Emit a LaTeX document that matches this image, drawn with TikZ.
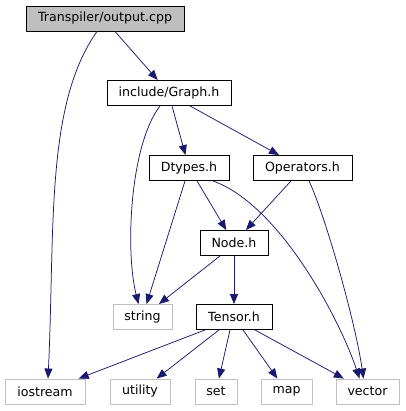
\documentclass[tikz,border=0pt]{standalone}
\usepackage{fontspec}
\setmainfont{DejaVu Sans}
\usepackage{xcolor}
\usepackage{tikz}
\usetikzlibrary{arrows.meta}
\definecolor{dgEdge}{HTML}{191970}
\definecolor{dgGrey}{HTML}{BFBFBF}
\definecolor{dgInk}{HTML}{000000}
\tikzset{
  dg diagram/.style={x=1pt, y=-1pt, font=\fontsize{12.6}{15}\selectfont, text=dgInk},
  dg box/.style={draw=dgInk, fill=white, line width=0.9pt, inner sep=0pt,
    minimum height=25pt, align=center},
  dg root box/.style={dg box, fill=dgGrey},
  dg ext box/.style={dg box, draw=dgGrey},
  dg arrow/.style={-{Triangle[length=10pt,width=8pt]}, draw=dgEdge, line width=0.75pt}
}
\begin{document}
\begin{tikzpicture}[dg diagram]
\useasboundingbox (0,0) rectangle (405,411);
\node[dg root box, minimum width=158pt] (output) at (105,18.5) {Transpiler/output.cpp};
\node[dg box, minimum width=124pt] (graph) at (169,93) {include/Graph.h};
\node[dg box, minimum width=80pt] (dtypes) at (189,168) {Dtypes.h};
\node[dg box, minimum width=99pt] (operators) at (302.5,168) {Operators.h};
\node[dg box, minimum width=68pt] (nodeh) at (234,243) {Node.h};
\node[dg ext box, minimum width=59pt] (string) at (142.5,317) {string};
\node[dg box, minimum width=76pt] (tensor) at (234,317) {Tensor.h};
\foreach \name/\x/\w in {iostream/45/80,utility/140/60,set/216/42,map/286.5/51,vector/367.5/63}{
  \node[dg ext box, minimum width=\w pt] (\name) at (\x,391.5) {\name};
}
\draw[dg arrow] ([xshift=10pt]output.south) -- (graph);
\draw[dg arrow] ([xshift=-8pt]output.south) .. controls (45,105) and (55,230) .. ([xshift=3pt]iostream.north);
\draw[dg arrow] ([xshift=-9pt]graph.south) .. controls (130,145) and (125,250) .. ([xshift=-4pt]string.north);
\draw[dg arrow] ([xshift=3pt]graph.south) -- (dtypes);
\draw[dg arrow] ([xshift=21pt]graph.south) -- (operators);
\draw[dg arrow] ([xshift=8pt]dtypes.south) -- (nodeh);
\draw[dg arrow] ([xshift=-4pt]dtypes.south) -- (string);
\draw[dg arrow] ([xshift=24pt]dtypes.south) .. controls (280,205) and (340,320) .. ([xshift=-8pt]vector.north);
\draw[dg arrow] ([xshift=-11.5pt]operators.south) -- (nodeh);
\draw[dg arrow] ([xshift=6.5pt]operators.south) .. controls (325,215) and (355,320) .. ([xshift=-4pt]vector.north);
\draw[dg arrow] ([xshift=-14pt]nodeh.south) -- (string);
\draw[dg arrow] (nodeh) -- (tensor);
\foreach \dst/\dx in {iostream/-29,utility/-15,set/-4,map/9,vector/21}{
  \draw[dg arrow] ([xshift=\dx pt]tensor.south) -- (\dst);
}
\end{tikzpicture}
\end{document}
